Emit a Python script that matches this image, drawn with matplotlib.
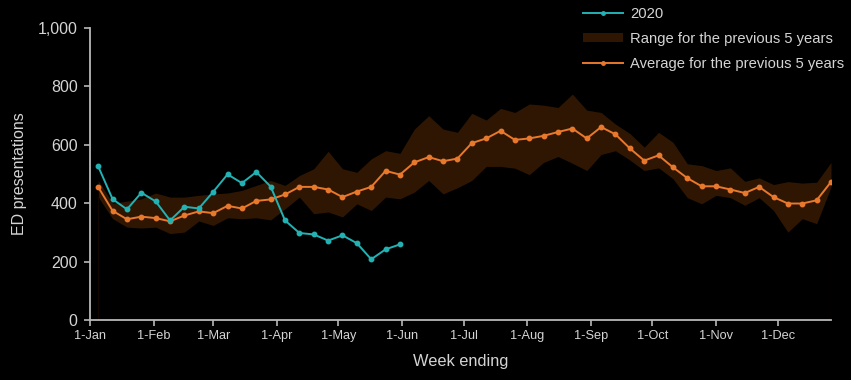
import matplotlib
matplotlib.use('Agg')
from matplotlib import pyplot as plt
import matplotlib.dates as mdates
from matplotlib.patches import Patch
from matplotlib.lines import Line2D
import pandas as pd

plt.rcParams['font.family'] = ['Liberation Sans', 'DejaVu Sans']

# weekly data, week ending Sunday
week_ending = pd.date_range('2020-01-05', periods=52, freq='7D')

ed_2020 = [526, 414, 379, 436, 406, 341, 388, 382, 439, 499, 469, 507, 457,
           341, 298, 293, 272, 290, 263, 208, 242, 259]

avg_5yr = [455, 374, 345, 354, 349, 338, 358, 372, 366, 391, 382, 408, 413,
           430, 456, 456, 447, 421, 440, 456, 511, 498, 540, 558, 544, 553,
           606, 622, 648, 617, 622, 631, 644, 656, 622, 661, 636, 588, 546,
           564, 523, 486, 458, 458, 447, 435, 456, 421, 399, 399, 410, 473]

range_hi = [478, 400, 407, 415, 435, 421, 421, 427, 432, 435, 444, 461, 478,
            461, 495, 518, 578, 518, 506, 552, 580, 571, 654, 700, 654, 643,
            708, 685, 725, 711, 740, 736, 728, 774, 719, 711, 671, 639, 592,
            643, 609, 535, 529, 512, 521, 475, 487, 464, 474, 469, 472, 540]

range_lo = [421, 347, 318, 315, 318, 296, 301, 339, 324, 350, 347, 350, 343,
            381, 421, 364, 370, 353, 398, 375, 421, 415, 438, 478, 432, 453,
            478, 526, 526, 520, 498, 540, 560, 537, 512, 567, 580, 548, 512,
            521, 484, 419, 398, 427, 419, 393, 419, 375, 301, 347, 330, 455]

teal = '#22b2b4'
orange = '#e8782c'
band = '#2f1603'
fg = '#d4d4d4'
axis_col = '#b8b8b8'

fig = plt.figure(figsize=(8.51, 3.8), dpi=100, facecolor='black')
ax = fig.add_axes([0.1058, 0.158, 0.8707, 0.768], facecolor='black')

ax.fill_between(week_ending, range_lo, range_hi, color=band, lw=0, zorder=1)
ax.vlines([week_ending[0], week_ending[-1]], 0, [range_lo[0], range_lo[-1]],
          color='#120700', lw=1, zorder=1)
ax.plot(week_ending, avg_5yr, color=orange, lw=1.4, marker='o', ms=3.2, zorder=3)
ax.plot(week_ending[:len(ed_2020)], ed_2020, color=teal, lw=1.4, marker='o',
        ms=3.2, zorder=4)

ax.set_xlim(pd.Timestamp('2020-01-01'), pd.Timestamp('2020-12-27'))
ax.set_ylim(0, 1000)
ax.set_yticks([0, 200, 400, 600, 800, 1000])
ax.yaxis.set_major_formatter(plt.FuncFormatter(lambda v, p: f'{int(v):,}'))
ax.xaxis.set_major_locator(mdates.MonthLocator())
ax.xaxis.set_major_formatter(plt.FuncFormatter(
    lambda v, p: f"{mdates.num2date(v).day}-{mdates.num2date(v):%b}"))

for s in ['top', 'right']:
    ax.spines[s].set_visible(False)
for s in ['left', 'bottom']:
    ax.spines[s].set_color(axis_col)
    ax.spines[s].set_linewidth(1.3)
ax.tick_params(axis='both', colors=axis_col, length=4, width=1.2, direction='out')
ax.tick_params(axis='y', labelcolor=fg, labelsize=11.5, pad=5)
ax.tick_params(axis='x', labelcolor=fg, labelsize=9.2, pad=3)

ax.set_ylabel('ED presentations', color=fg, fontsize=11.5, labelpad=8)
ax.set_xlabel('Week ending', color=fg, fontsize=11.8, labelpad=9)

handles = [Line2D([0], [0], color=teal, lw=1.4, marker='o', ms=2.5),
           Patch(facecolor=band, edgecolor='none'),
           Line2D([0], [0], color=orange, lw=1.4, marker='o', ms=2.5)]
labels = ['2020', 'Range for the previous 5 years', 'Average for the previous 5 years']
leg = fig.legend(handles, labels, loc='upper left', bbox_to_anchor=(0.682, 0.99),
                 frameon=False, fontsize=10.6, handlelength=2.7, handleheight=0.5,
                 handletextpad=0.5, labelspacing=0.75, borderpad=0.2,
                 borderaxespad=0, numpoints=1)
for t in leg.get_texts():
    t.set_color(fg)

fig.savefig('out.png', dpi=100, facecolor='black')
